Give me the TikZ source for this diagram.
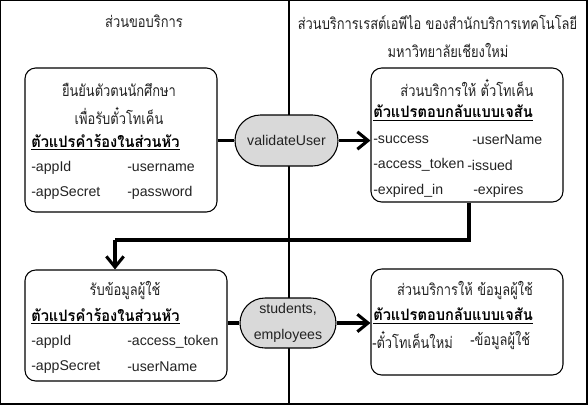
\documentclass[tikz,border=0pt]{standalone}
\usepackage{fontspec}
\setmainfont{Liberation Sans}
\newfontfamily\thai[Script=Thai,FakeStretch=0.82]{Loma}
\newfontfamily\thaib[Script=Thai,FakeStretch=0.93]{Loma}
\usetikzlibrary{arrows.meta,shapes.misc}
\definecolor{ovalfill}{HTML}{D9D9D9}
\definecolor{txt}{HTML}{222222}
\tikzset{
  box/.style={draw, line width=0.8pt, rounded corners=8pt, inner sep=0pt},
  oval/.style={draw, line width=0.8pt, rounded rectangle, fill=ovalfill, inner sep=0pt, align=center, font=\fontsize{10.6}{19.5}\selectfont, text=txt},
  lat/.style={anchor=west, inner sep=0pt, font=\fontsize{10.6}{12}\selectfont, text=txt},
  th/.style={inner sep=0pt, font=\thai\fontsize{11.8}{13}\selectfont, text=txt},
  thh/.style={anchor=west, inner sep=0pt, font=\thaib\bfseries\fontsize{11.8}{13}\selectfont},
  flow/.style={line width=2.3pt},
  tip/.style={-{Straight Barb[length=8pt,width=13pt,line width=2.3pt]}},
}
\begin{document}
\begin{tikzpicture}[x=0.75pt,y=-0.75pt]
\useasboundingbox (0,0) rectangle (588,405);
% frame
\draw[line width=0.8pt] (0.5,0.5) rectangle (587,404);
\draw[line width=0.8pt] (289,0.5) -- (289,404);
% headers
\node[th] (hl) at (144,21) {ส่วนขอบริการ};
\node[th] (hr1) at (437.5,22) {ส่วนบริการเรสต์เอพีไอ ของสำนักบริการเทคโนโลยี};
\node[th] (hr2) at (448,50) {มหาวิทยาลัยเชียงใหม่};
% boxes
\node[box, minimum width=192*0.75pt, minimum height=144*0.75pt] (b1) at (121,140) {};
\node[box, minimum width=192*0.75pt, minimum height=134*0.75pt] (b2) at (467,135) {};
\node[box, minimum width=202*0.75pt, minimum height=111*0.75pt] (b3) at (126,325.5) {};
\node[box, minimum width=192*0.75pt, minimum height=106*0.75pt] (b4) at (467,322) {};
% ovals
\node[oval, minimum width=103*0.75pt, minimum height=51*0.75pt] (o1) at (286.5,140.5) {validateUser};
\node[oval, minimum width=96*0.75pt, minimum height=50*0.75pt] (o2) at (288,323) {students,\\employees};
% box 1 text
\node[th] (t11) at (119,90) {ยืนยันตัวตนนักศึกษา};
\node[th] (t12) at (119,116) {เพื่อรับตั๋วโทเค็น};
\node[thh] (t13) at (31,142) {\underline{ตัวแปรคำร้องในส่วนหัว}};
\node[lat] (t14) at (31,168) {-appId};
\node[lat] (t15) at (127,168) {-username};
\node[lat] (t16) at (31,193) {-appSecret};
\node[lat] (t17) at (127,193) {-password};
% box 2 text
\node[th] (t21) at (467,88) {ส่วนบริการให้ ตั๋วโทเค็น};
\node[thh] (t22) at (373,113) {\underline{ตัวแปรตอบกลับแบบเจสัน}};
\node[lat] (t23) at (373,140) {-success};
\node[lat] (t24) at (472,140) {-userName};
\node[lat] (t25) at (373,165) {-access\_token};
\node[lat] (t26) at (467,165) {-issued};
\node[lat] (t27) at (373,191) {-expired\_in};
\node[lat] (t28) at (473,191) {-expires};
% box 3 text
\node[th] (t31) at (125,290) {รับข้อมูลผู้ใช้};
\node[thh] (t32) at (31,316) {\underline{ตัวแปรคำร้องในส่วนหัว}};
\node[lat] (t33) at (31,342) {-appId};
\node[lat] (t34) at (127,342) {-access\_token};
\node[lat] (t35) at (31,367) {-appSecret};
\node[lat] (t36) at (127,367) {-userName};
% box 4 text
\node[th] (t41) at (465,290) {ส่วนบริการให้ ข้อมูลผู้ใช้};
\node[thh] (t42) at (373,316) {\underline{ตัวแปรตอบกลับแบบเจสัน}};
\node[th, anchor=west] (t43) at (372,340) {-ตั๋วโทเค็นใหม่};
\node[th, anchor=west] (t44) at (470,340) {-ข้อมูลผู้ใช้};
% connectors
\coordinate (c1) at (469,240);
\coordinate (c2) at (115,240);
\draw[flow] (b1.east |- o1.west) -- (o1.west);
\draw[flow, tip] (o1.east) -- (b2.west |- o1.east);
\draw[flow] (c1 |- b2.south) -- (c1) -- (c2);
\draw[flow, tip] (c2) -- (c2 |- b3.north);
\draw[flow] (b3.east |- o2.west) -- (o2.west);
\draw[flow, tip] (o2.east) -- (b4.west |- o2.east);
\end{tikzpicture}
\end{document}
